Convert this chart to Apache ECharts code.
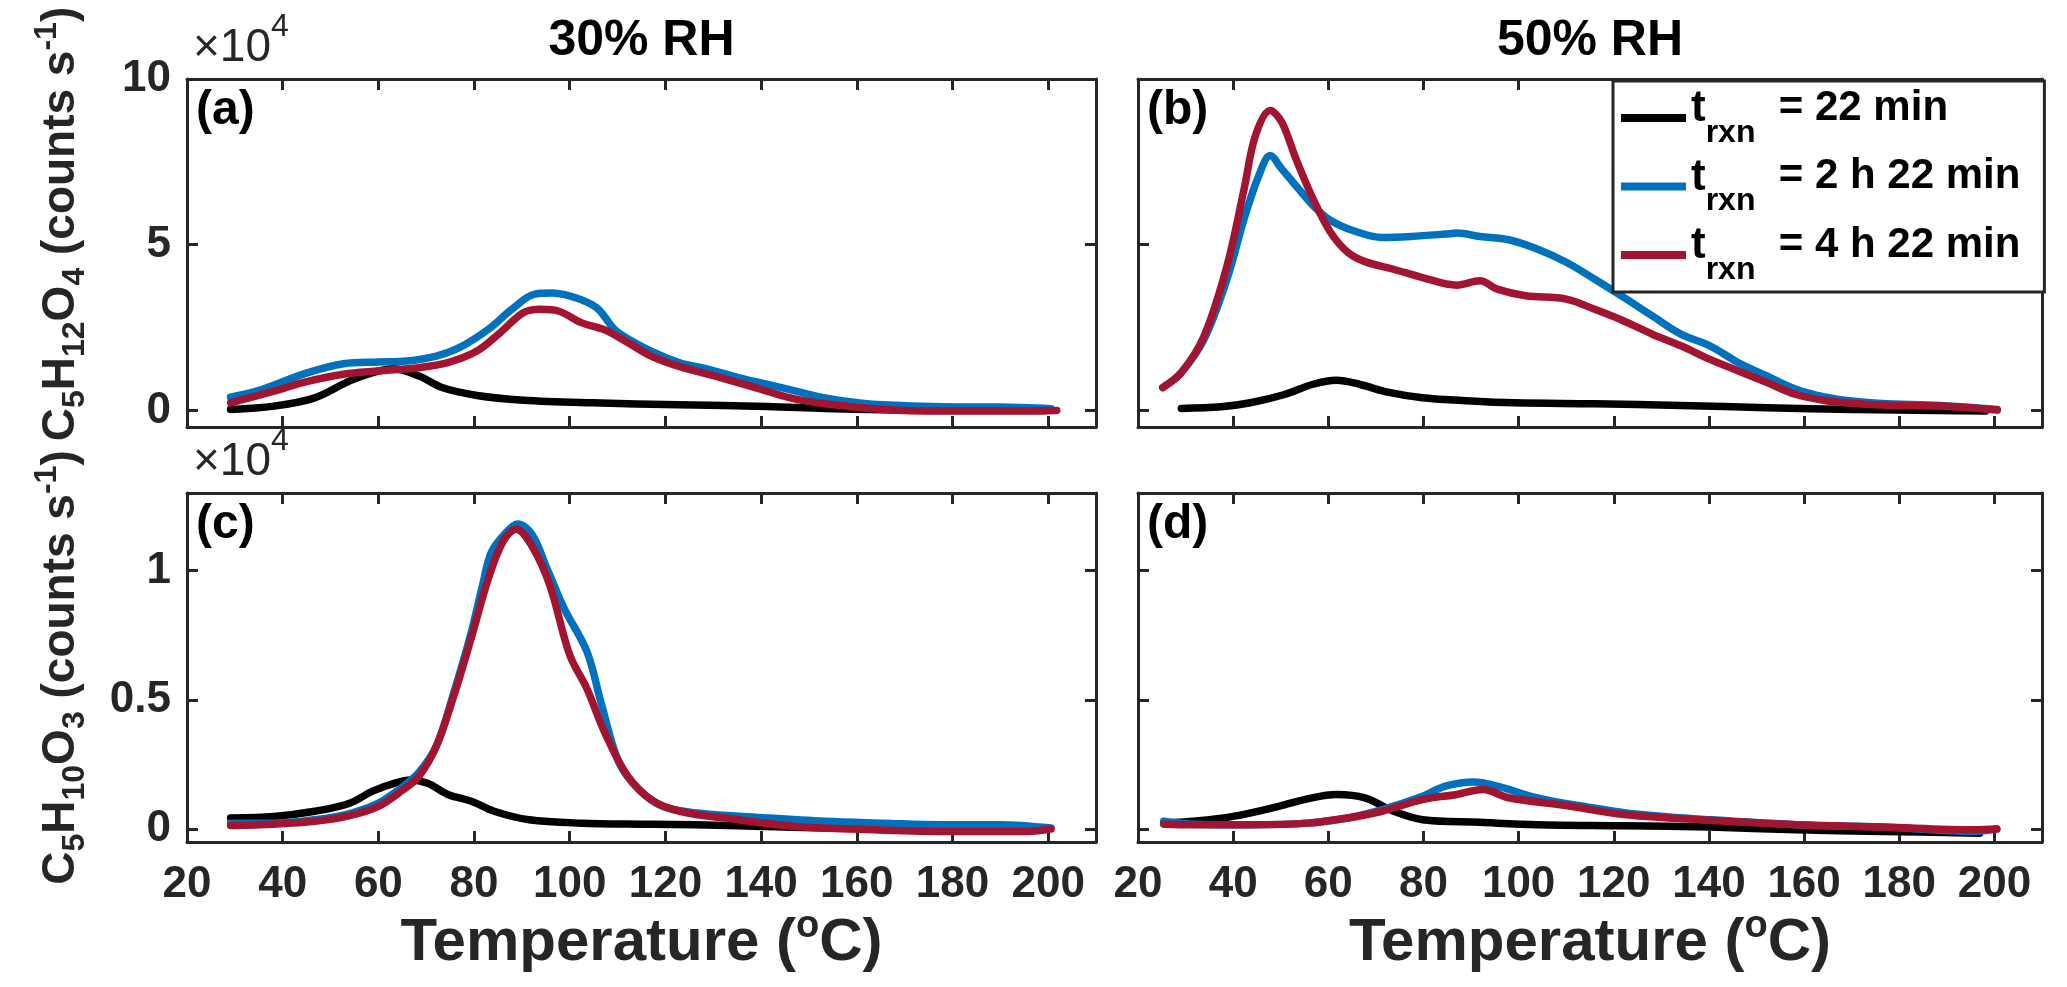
<!DOCTYPE html>
<html><head><meta charset="utf-8">
<script src="https://cdn.jsdelivr.net/npm/echarts@6/dist/echarts.min.js"></script>
<style>html,body{margin:0;padding:0;background:#fff}#c{width:2067px;height:987px}</style>
</head><body><div id="c"></div>
<script>
// ---------- data (signal in units of 1e4 counts s^-1) ----------
const xTicks = [20, 40, 60, 80, 100, 120, 140, 160, 180, 200];
const yTicksTop = [0, 5, 10];
const yTicksBottom = [0, 0.5, 1];
const seriesNames = ['t_rxn = 22 min', 't_rxn = 2 h 22 min', 't_rxn = 4 h 22 min'];
const legendTail = ['= 22 min', '= 2 h 22 min', '= 4 h 22 min'];
const panelTitles = ['30% RH', '50% RH'];
const panelTags = ['(a)', '(b)', '(c)', '(d)'];

// (a) C5H12O4, 30% RH
const aBlackT = [29.1, 38.2, 46.7, 54, 58.8, 63, 68.5, 73.3, 80.6, 90.3, 104.8, 123, 141.2, 153.3, 165.5, 177.6, 199.4];
const aBlack  = [0.03, 0.13, 0.38, 0.89, 1.14, 1.26, 1.04, 0.69, 0.45, 0.31, 0.23, 0.17, 0.12, 0.06, 0.02, 0.0, 0.0];
const aBlueT  = [29.1, 35.8, 44.2, 52.7, 60, 66, 72.1, 77, 83, 87.9, 92.7, 96.4, 102.4, 106, 109.7, 117, 123, 129, 135.2, 141.2, 147.3, 153.3, 159.4, 165.5, 177.6, 189.7, 200.6];
const aBlue   = [0.40, 0.64, 1.09, 1.41, 1.46, 1.49, 1.64, 1.90, 2.45, 3.05, 3.51, 3.54, 3.34, 3.05, 2.40, 1.79, 1.44, 1.24, 0.99, 0.79, 0.58, 0.38, 0.25, 0.17, 0.11, 0.10, 0.05];
const aRedT   = [29.1, 38.2, 44.2, 52.7, 60, 68.5, 74.5, 80.6, 85.5, 90.3, 93.9, 97.6, 102.4, 107.3, 112.1, 117, 123, 131.5, 138.8, 146.1, 153.3, 165.5, 177.6, 189.7, 201.8];
const aRed    = [0.23, 0.58, 0.84, 1.09, 1.19, 1.29, 1.44, 1.79, 2.35, 2.95, 3.05, 3.00, 2.65, 2.43, 2.05, 1.64, 1.32, 0.99, 0.69, 0.38, 0.20, 0.03, -0.02, -0.02, 0.0];

// (b) C5H12O4, 50% RH
const bBlackT = [29.1, 37.5, 43.6, 50.8, 56.8, 61.7, 66.5, 72.5, 79.8, 88.2, 99.1, 116, 134.1, 152.2, 170.4, 188.5, 198.1];
const bBlack  = [0.06, 0.11, 0.23, 0.48, 0.79, 0.91, 0.79, 0.55, 0.38, 0.30, 0.23, 0.20, 0.15, 0.08, 0.03, 0.0, -0.02];
const bBlueT  = [25.2, 29.1, 33.9, 38.7, 42.3, 45.4, 47.8, 50.2, 53.2, 56.8, 60.5, 65.3, 71.3, 77.4, 84.6, 87, 91.9, 97.9, 103.9, 110, 116, 122.1, 128.1, 134.1, 140.2, 146.2, 152.2, 158.3, 164.3, 170.4, 176.4, 188.5, 200.6];
const bBlue   = [0.69, 1.14, 2.15, 3.96, 5.78, 7.09, 7.69, 7.29, 6.78, 6.18, 5.73, 5.42, 5.22, 5.25, 5.32, 5.35, 5.25, 5.15, 4.87, 4.47, 3.96, 3.41, 2.85, 2.30, 1.95, 1.44, 1.04, 0.64, 0.41, 0.28, 0.21, 0.15, 0.03];
const bRedT   = [25.2, 29.1, 33.9, 38.7, 42.3, 44.7, 47.8, 50.2, 53.2, 56.8, 60.5, 64.1, 67.7, 73.7, 79.8, 87, 91.9, 95.5, 101.5, 110, 116, 122.1, 128.1, 134.1, 140.2, 146.2, 152.2, 158.3, 164.3, 170.4, 176.4, 188.5, 200.6];
const bRed    = [0.69, 1.14, 2.25, 4.36, 6.68, 8.30, 9.05, 8.70, 7.59, 6.38, 5.37, 4.77, 4.49, 4.26, 4.01, 3.78, 3.91, 3.66, 3.46, 3.36, 3.05, 2.70, 2.30, 1.95, 1.54, 1.19, 0.84, 0.48, 0.30, 0.21, 0.16, 0.13, 0.01];

// (c) C5H10O3, 30% RH
const cBlackT = [29.1, 38.2, 46.7, 54, 58.8, 63.6, 66.7, 70.3, 74.5, 79.4, 84.2, 91.5, 102.4, 117, 135.2, 153.3, 177.6, 199.4];
const cBlack  = [0.043, 0.049, 0.069, 0.10, 0.147, 0.179, 0.19, 0.177, 0.134, 0.108, 0.069, 0.036, 0.023, 0.019, 0.013, 0.004, 0, 0];
const cBlueT  = [29.1, 38.2, 46.7, 54, 60, 64.8, 68.5, 72.1, 75.8, 79.4, 81.8, 83.6, 86.7, 89.1, 92.1, 95.2, 98.8, 103.6, 106.7, 110.3, 114.5, 119.4, 126.7, 141.2, 153.3, 165.5, 177.6, 189.7, 200.6];
const cBlue   = [0.023, 0.023, 0.036, 0.06, 0.10, 0.16, 0.22, 0.32, 0.53, 0.76, 0.945, 1.07, 1.147, 1.18, 1.14, 1.01, 0.855, 0.686, 0.478, 0.257, 0.153, 0.088, 0.062, 0.043, 0.030, 0.023, 0.017, 0.017, 0.004];
const cRedT   = [29.1, 38.2, 46.7, 54, 60, 64.8, 68.5, 72.1, 75.8, 79.4, 83, 86.1, 88.8, 92.1, 95.8, 100, 103.6, 107.3, 112.1, 117, 123, 135.2, 147.3, 159.4, 177.6, 195.8, 200.6];
const cRed    = [0.014, 0.019, 0.03, 0.052, 0.088, 0.147, 0.205, 0.32, 0.517, 0.738, 0.97, 1.114, 1.16, 1.095, 0.945, 0.673, 0.543, 0.374, 0.205, 0.114, 0.069, 0.036, 0.01, 0, -0.009, -0.009, 0];

// (d) C5H10O3, 50% RH
const dBlackT = [25.4, 31.5, 40, 49.6, 55.6, 61.7, 67.7, 73.7, 79.8, 91.9, 103.9, 122.1, 140.2, 158.3, 176.4, 196.9];
const dBlack  = [0.023, 0.03, 0.049, 0.088, 0.117, 0.134, 0.121, 0.069, 0.036, 0.026, 0.017, 0.013, 0.008, -0.003, -0.009, -0.016];
const dBlueT  = [25.4, 31.5, 43.6, 55.6, 64.1, 71.3, 79.8, 84.6, 90.6, 95.5, 103.9, 113.6, 125.7, 140.2, 158.3, 176.4, 195.7, 200.5];
const dBlue   = [0.03, 0.019, 0.017, 0.023, 0.043, 0.075, 0.127, 0.166, 0.182, 0.166, 0.121, 0.088, 0.056, 0.036, 0.017, 0.008, -0.009, 0];
const dRedT   = [25.4, 31.5, 43.6, 55.6, 64.1, 71.3, 79.8, 87, 92.5, 97.9, 110, 122.1, 140.2, 158.3, 176.4, 195.7, 200.5];
const dRed    = [0.019, 0.017, 0.017, 0.023, 0.043, 0.069, 0.114, 0.134, 0.153, 0.121, 0.091, 0.056, 0.034, 0.017, 0.008, -0.003, 0];

// ---------- styling / layout ----------
const AX = '#262626';
const SANS = '"Liberation Sans", Arial, Helvetica, sans-serif';
const COLORS = ['#000000', '#0072BD', '#A2142F'];
const GRIDS = [
  {left: 187, top: 79, width: 909, height: 348},
  {left: 1138, top: 79, width: 904, height: 348},
  {left: 187, top: 493, width: 909, height: 349},
  {left: 1138, top: 493, width: 904, height: 349}
];
const YR = [[-0.5, 10], [-0.5, 10], [-0.05, 1.3], [-0.05, 1.3]];
const panelData = [
  [[aBlackT, aBlack], [aBlueT, aBlue], [aRedT, aRed]],
  [[bBlackT, bBlack], [bBlueT, bBlue], [bRedT, bRed]],
  [[cBlackT, cBlack], [cBlueT, cBlue], [cRedT, cRed]],
  [[dBlackT, dBlack], [dBlueT, dBlue], [dRedT, dRed]]
];

const zip = (xs, ys) => xs.map((x, i) => [x, ys[i]]);
const tickStyle = {show: true, inside: true, length: 11, lineStyle: {color: AX, width: 3}};
const lineStyle = {show: true, onZero: false, lineStyle: {color: AX, width: 3}};
const labelFont = {color: AX, fontSize: 44, fontWeight: 'bold', fontFamily: SANS};

const xAxes = [], yAxes = [], series = [];
GRIDS.forEach((g, gi) => {
  const bottomRow = gi >= 2, leftCol = gi % 2 === 0;
  const bx = {
    type: 'value', gridIndex: gi, position: 'bottom', min: 20, max: 210,
    axisLine: lineStyle, axisTick: Object.assign({customValues: xTicks}, tickStyle),
    axisLabel: Object.assign({show: bottomRow, customValues: xTicks, margin: 21}, labelFont),
    splitLine: {show: false}
  };
  if (bottomRow) {
    bx.name = '{b|Temperature (}{p|o}{b|C)}';
    bx.nameLocation = 'middle';
    bx.nameGap = 58;
    bx.nameTextStyle = {rich: {
      b: {fontSize: 60, fontWeight: 'bold', fontFamily: SANS, color: AX, lineHeight: 72, verticalAlign: 'middle'},
      p: {fontSize: 38, fontWeight: 'bold', fontFamily: SANS, color: AX, verticalAlign: 'top'}
    }};
  }
  xAxes.push(bx);
  xAxes.push({
    type: 'value', gridIndex: gi, position: 'top', min: 20, max: 210,
    axisLine: lineStyle, axisTick: Object.assign({customValues: xTicks}, tickStyle),
    axisLabel: {show: false}, splitLine: {show: false}
  });
  const yt = bottomRow ? yTicksBottom : yTicksTop;
  const ly = {
    type: 'value', gridIndex: gi, position: 'left', min: YR[gi][0], max: YR[gi][1],
    axisLine: lineStyle, axisTick: Object.assign({customValues: yt}, tickStyle),
    axisLabel: Object.assign({show: leftCol, customValues: yt, margin: 16}, labelFont),
    splitLine: {show: false}
  };
  if (leftCol) {
    const mol = bottomRow ? ['10', '3'] : ['12', '4'];
    ly.name = `{b|C}{s|5}{b|H}{s|${mol[0]}}{b|O}{s|${mol[1]}}{b| (counts s}{p|-1}{b|)}`;
    ly.nameLocation = 'middle';
    ly.nameRotate = 90;
    ly.nameGap = 96;
    ly.nameTextStyle = {
      padding: bottomRow ? [0, 0, 0, 0] : [0, 0, 0, 58],
      rich: {
        b: {fontSize: 46, fontWeight: 'bold', fontFamily: SANS, color: AX, lineHeight: 60, verticalAlign: 'middle'},
        s: {fontSize: 32, fontWeight: 'bold', fontFamily: SANS, color: AX, verticalAlign: 'bottom'},
        p: {fontSize: 32, fontWeight: 'bold', fontFamily: SANS, color: AX, verticalAlign: 'top'}
      }
    };
  }
  yAxes.push(ly);
  yAxes.push({
    type: 'value', gridIndex: gi, position: 'right', min: YR[gi][0], max: YR[gi][1],
    axisLine: lineStyle, axisTick: Object.assign({customValues: yt}, tickStyle),
    axisLabel: {show: false}, splitLine: {show: false}
  });
  panelData[gi].forEach((pair, si) => {
    series.push({
      type: 'line', name: seriesNames[si], xAxisIndex: 2 * gi, yAxisIndex: 2 * gi,
      data: zip(pair[0], pair[1]), showSymbol: false, symbol: 'none', smooth: 0.35,
      lineStyle: {color: COLORS[si], width: 7.5, cap: 'round', join: 'round'},
      itemStyle: {color: COLORS[si]}, emphasis: {disabled: true}, z: 2 + si
    });
  });
});

const graphics = [];
panelTitles.forEach((t, i) => {
  const g = GRIDS[i];
  graphics.push({type: 'text', x: g.left + g.width / 2, y: 66, silent: true,
    style: {text: t, fontSize: 50, fontWeight: 'bold', fontFamily: SANS, fill: '#000', textAlign: 'center', textVerticalAlign: 'bottom'}});
});
panelTags.forEach((t, i) => {
  const g = GRIDS[i];
  graphics.push({type: 'text', x: g.left + 9, y: g.top + 8, silent: true,
    style: {text: t, fontSize: 48, fontWeight: 'bold', fontFamily: SANS, fill: '#000', textAlign: 'left', textVerticalAlign: 'top'}});
});
[0, 2].forEach(i => {
  const g = GRIDS[i];
  graphics.push({type: 'text', x: g.left + 6, y: g.top - 8, silent: true,
    style: {text: '{n|×10}{p|4}', textAlign: 'left', textVerticalAlign: 'bottom',
      rich: {n: {fontSize: 46, fontFamily: SANS, fill: AX, padding: [14, 0, 0, 0], verticalAlign: 'bottom'},
             p: {fontSize: 32, fontFamily: SANS, fill: AX, verticalAlign: 'top'}}}});
});

const chart = echarts.init(document.getElementById('c'), null, {renderer: 'canvas', width: 2067, height: 987});
chart.setOption({
  animation: false,
  backgroundColor: '#fff',
  grid: GRIDS.map(g => Object.assign({containLabel: false}, g)),
  xAxis: xAxes,
  yAxis: yAxes,
  series: series,
  legend: {
    orient: 'vertical', left: 1613, top: 81, icon: 'rect', itemWidth: 65, itemHeight: 8, itemGap: 6.5,
    padding: [6, 24, 6, 8], borderColor: AX, borderWidth: 3, backgroundColor: '#fff',
    selectedMode: false, data: seriesNames, z: 10,
    formatter: name => `{t|t}{s|rxn}{n|  ${legendTail[seriesNames.indexOf(name)]}}`,
    textStyle: {rich: {
      t: {fontSize: 44, fontWeight: 'bold', fontFamily: SANS, color: '#000', verticalAlign: 'top'},
      s: {fontSize: 32, fontWeight: 'bold', fontFamily: SANS, color: '#000', verticalAlign: 'bottom', padding: [30, 0, 0, 0]},
      n: {fontSize: 42, fontWeight: 'bold', fontFamily: SANS, color: '#000', verticalAlign: 'top'}
    }}
  },
  graphic: graphics
});
</script></body></html>
